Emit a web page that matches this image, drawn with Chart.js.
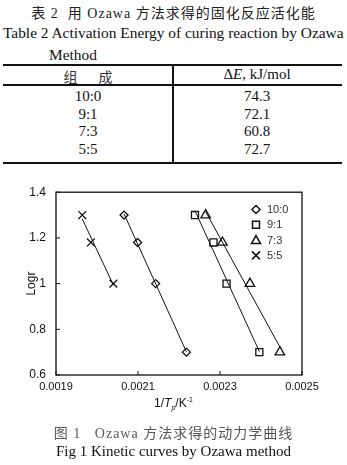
<!DOCTYPE html>
<html>
<head>
<meta charset="utf-8">
<script src="https://cdn.jsdelivr.net/npm/chart.js@4.4.0/dist/chart.umd.min.js"></script>
<style>
  body { margin: 0; background: #fff; width: 347px; height: 465px; position: relative; overflow: hidden; }
  .t { position: absolute; white-space: nowrap; font-family: "Liberation Serif", "Noto Sans CJK SC", serif; color: #111; }
  .line { position: absolute; background: #111; }
  #chartWrap { position: absolute; left: 0; top: 175px; width: 347px; height: 240px; }
</style>
</head>
<body>
<div class="t" style="left:0;width:347px;text-align:center;top:2px;font-size:14px;letter-spacing:1px;color:#222;">表 2&nbsp; 用 Ozawa 方法求得的固化反应活化能</div>
<div class="t" style="left:3px;top:24px;font-size:15.4px;">Table 2 Activation Energy of curing reaction by Ozawa</div>
<div class="t" style="left:49px;top:46px;font-size:15.4px;">Method</div>

<div class="line" style="left:3px;width:339px;top:64px;height:2px;"></div>
<div class="line" style="left:3px;width:339px;top:84px;height:2px;"></div>
<div class="line" style="left:3px;width:339px;top:162px;height:2px;"></div>
<div class="line" style="left:172px;width:2px;top:64px;height:100px;"></div>
<div id="table"></div>

<div id="chartWrap"><canvas id="myChart" width="347" height="240"></canvas></div>
<div class="t" style="left:0;width:347px;text-align:center;top:396px;font-size:12px;font-family:'Liberation Sans',Arial,sans-serif;">1/<i>T</i><sub style="font-size:7px;"><i>p</i></sub>/K<sup style="font-size:7px;">-1</sup></div>
<div class="t" style="left:0;width:347px;text-align:center;top:422px;font-size:14px;color:#555;letter-spacing:1px;">图 1&nbsp;&nbsp; Ozawa 方法求得的动力学曲线</div>
<div class="t" style="left:0;width:347px;text-align:center;top:443px;font-size:15px;">Fig 1 Kinetic curves by Ozawa method</div>

<script>
// table
const compositions = ['10:0', '9:1', '7:3', '5:5'];
const activationEnergy = [74.3, 72.1, 60.8, 72.7];

// chart
const seriesNames = ['10:0', '9:1', '7:3', '5:5'];
const logR = [1.30, 1.18, 1.00, 0.70];
const invTp10_0 = [0.002066, 0.002099, 0.002143, 0.002218];
const invTp9_1 = [0.002239, 0.002284, 0.002316, 0.002396];
const invTp7_3 = [0.002265, 0.002306, 0.002373, 0.002446];
const invTp5_5 = [0.001964, 0.001985, 0.002040];
const xTicks = [0.0019, 0.0021, 0.0023, 0.0025];
const yTicks = [0.6, 0.8, 1.0, 1.2, 1.4];

const tableEl = document.getElementById('table');
const addCell = (text, cx, cy, html) => {
  const d = document.createElement('div');
  d.className = 't';
  d.style.cssText = `left:${cx - 80}px;width:160px;text-align:center;top:${cy - 9}px;font-size:15px;`;
  if (html) d.innerHTML = text; else d.textContent = text;
  tableEl.appendChild(d);
};
addCell('<span style="font-size:14px;color:#333">组&nbsp;&nbsp;&nbsp;&nbsp;&nbsp;&nbsp;成</span>', 88, 75, true);
addCell('Δ<i>E</i>, kJ/mol', 257, 75, true);
compositions.forEach((c, i) => {
  addCell(c, 88, 97 + i * 17.7);
  addCell(activationEnergy[i].toFixed(1), 257, 97 + i * 17.7);
});

const styles = ['rectRot', 'rect', 'triangle', 'crossRot'];
const radii = [4, 5, 5.5, 5.5];
const xsAll = [invTp10_0, invTp9_1, invTp7_3, invTp5_5];

// least-squares line through each series, drawn over its x span
const fitLine = (xs, ys) => {
  const n = xs.length;
  const mx = xs.reduce((a, b) => a + b, 0) / n;
  const my = ys.slice(0, n).reduce((a, b) => a + b, 0) / n;
  let sxy = 0, sxx = 0;
  for (let i = 0; i < n; i++) {
    sxy += (xs[i] - mx) * (ys[i] - my);
    sxx += (xs[i] - mx) * (xs[i] - mx);
  }
  const k = sxy / sxx;
  const x0 = Math.min(...xs), x1 = Math.max(...xs);
  return [{ x: x0, y: my + k * (x0 - mx) }, { x: x1, y: my + k * (x1 - mx) }];
};

const datasets = [];
xsAll.forEach((xs, i) => {
  datasets.push({
    label: seriesNames[i] + ' fit',
    data: fitLine(xs, logR),
    showLine: true,
    borderColor: '#111',
    borderWidth: 1,
    pointRadius: 0
  });
});
xsAll.forEach((xs, i) => {
  datasets.push({
    label: seriesNames[i],
    data: xs.map((x, j) => ({ x: x, y: logR[j] })),
    showLine: false,
    pointStyle: styles[i],
    pointRadius: radii[i],
    pointBorderColor: '#111',
    pointBackgroundColor: '#fff',
    pointBorderWidth: 1.3
  });
});

const frame = {
  id: 'frame',
  afterDraw(chart) {
    const { ctx, chartArea: a, scales } = chart;
    ctx.save();
    ctx.strokeStyle = '#111';
    ctx.lineWidth = 1.3;
    ctx.strokeRect(a.left, a.top, a.right - a.left, a.bottom - a.top);
    ctx.lineWidth = 1;
    xTicks.forEach(v => {
      const px = scales.x.getPixelForValue(v);
      ctx.beginPath(); ctx.moveTo(px, a.bottom); ctx.lineTo(px, a.bottom - 4); ctx.stroke();
    });
    yTicks.forEach(v => {
      const py = scales.y.getPixelForValue(v);
      ctx.beginPath(); ctx.moveTo(a.left, py); ctx.lineTo(a.left + 4, py); ctx.stroke();
    });
    // legend
    const lx = 256, ly0 = 34.5, step = 15.3;
    seriesNames.forEach((name, i) => {
      const y = ly0 + i * step;
      ctx.lineWidth = 1.5;
      ctx.strokeStyle = '#111';
      ctx.fillStyle = '#fff';
      ctx.beginPath();
      if (styles[i] === 'rectRot') {
        ctx.moveTo(lx, y - 4); ctx.lineTo(lx + 4, y); ctx.lineTo(lx, y + 4); ctx.lineTo(lx - 4, y); ctx.closePath();
      } else if (styles[i] === 'rect') {
        ctx.rect(lx - 3.5, y - 3.5, 7, 7);
      } else if (styles[i] === 'triangle') {
        ctx.moveTo(lx, y - 4.5); ctx.lineTo(lx + 4.5, y + 3.5); ctx.lineTo(lx - 4.5, y + 3.5); ctx.closePath();
      } else {
        ctx.moveTo(lx - 4, y - 4); ctx.lineTo(lx + 4, y + 4); ctx.moveTo(lx + 4, y - 4); ctx.lineTo(lx - 4, y + 4);
      }
      ctx.stroke();
      ctx.fillStyle = '#333';
      ctx.font = '11px "Liberation Sans", Arial, sans-serif';
      ctx.textBaseline = 'middle';
      ctx.fillText(name, 267, y + 0.5);
    });
    ctx.restore();
  }
};

new Chart(document.getElementById('myChart'), {
  type: 'scatter',
  data: { datasets },
  options: {
    responsive: false,
    animation: false,
    layout: { padding: { left: 20, right: 45, top: 10, bottom: 16 } },
    plugins: { legend: { display: false }, tooltip: { enabled: false } },
    scales: {
      x: {
        type: 'linear',
        min: 0.0019, max: 0.0025,
        afterBuildTicks: s => { s.ticks = xTicks.map(v => ({ value: v })); },
        afterFit: s => { s.height = 24; },
        grid: { display: false, drawTicks: false },
        border: { display: false },
        ticks: {
          padding: 5,
          color: '#111',
          maxRotation: 0,
          autoSkip: false,
          font: { family: '"Liberation Sans", Arial, sans-serif', size: 11 },
          callback: v => v.toFixed(4)
        }
      },
      y: {
        min: 0.6, max: 1.4,
        afterBuildTicks: s => { s.ticks = yTicks.map(v => ({ value: v })); },
        afterFit: s => { s.width = 36; },
        grid: { display: false, drawTicks: false },
        border: { display: false },
        title: {
          display: true, text: 'Logr', color: '#111', padding: { top: 4, bottom: 0 },
          font: { family: '"Liberation Sans", Arial, sans-serif', size: 12 }
        },
        ticks: {
          padding: 10,
          color: '#111',
          font: { family: '"Liberation Sans", Arial, sans-serif', size: 12 },
          callback: v => String(parseFloat(v.toFixed(1)))
        }
      }
    }
  },
  plugins: [frame]
});
</script>
</body>
</html>
